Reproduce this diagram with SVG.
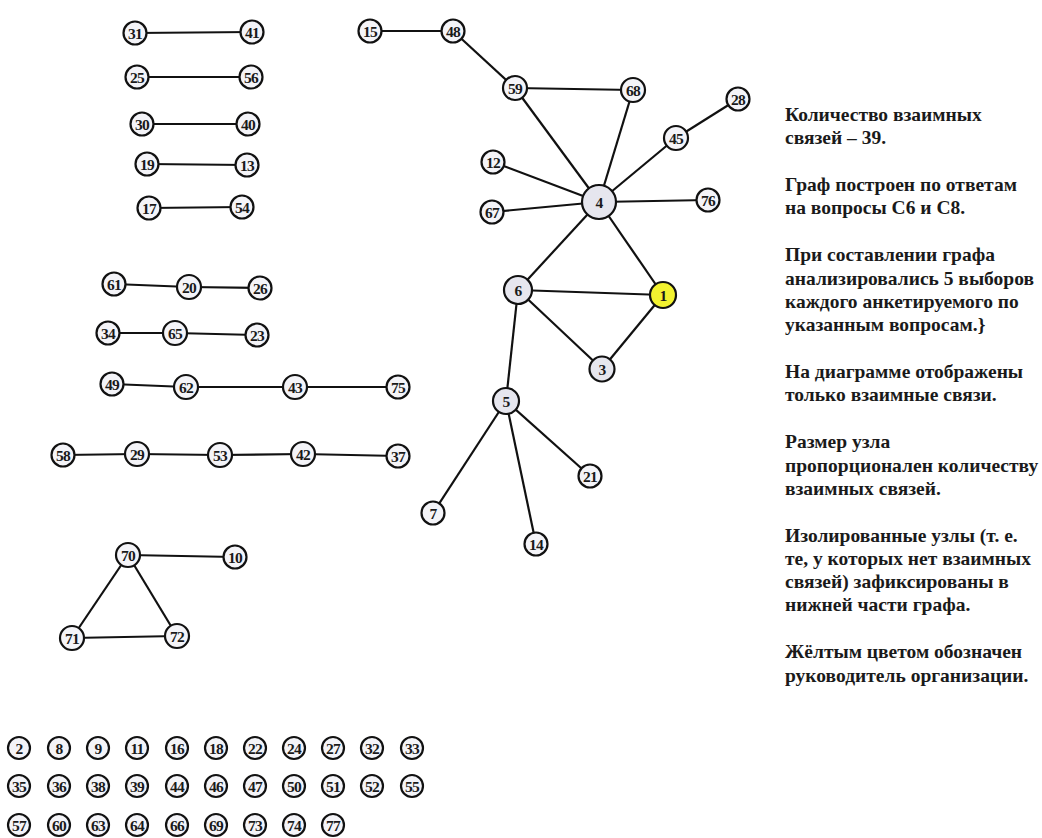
<svg xmlns="http://www.w3.org/2000/svg" width="1042" height="838" viewBox="0 0 1042 838">
<style>
.e line{stroke:#111;stroke-width:2.2}
.n circle{fill:#f4f4f8;stroke:#111;stroke-width:2.2}
.n.b circle{fill:#e6e6ee}
.n.y circle{fill:#f2f230}
.n text{font-family:"Liberation Serif",serif;font-size:15.5px;font-weight:bold;fill:#1a1a1a;text-anchor:middle;letter-spacing:-0.8px}
.t text{font-family:"Liberation Serif",serif;font-size:19.5px;font-weight:bold;fill:#1a1a1a}
</style>
<rect width="1042" height="838" fill="#fff"/>
<g class="e" id="edges">
<line x1="135" y1="33" x2="252" y2="32"/>
<line x1="137" y1="77" x2="251" y2="77"/>
<line x1="142" y1="124" x2="248" y2="124"/>
<line x1="147" y1="164" x2="247" y2="165"/>
<line x1="149" y1="208" x2="242" y2="207"/>
<line x1="370" y1="31" x2="453" y2="31"/>
<line x1="453" y1="31" x2="515" y2="88"/>
<line x1="515" y1="88" x2="633" y2="90"/>
<line x1="515" y1="88" x2="599" y2="202"/>
<line x1="633" y1="90" x2="599" y2="202"/>
<line x1="676" y1="138" x2="738" y2="99"/>
<line x1="599" y1="202" x2="676" y2="138"/>
<line x1="493" y1="162" x2="599" y2="202"/>
<line x1="492" y1="212" x2="599" y2="202"/>
<line x1="599" y1="202" x2="708" y2="200"/>
<line x1="599" y1="202" x2="518" y2="290"/>
<line x1="599" y1="202" x2="663" y2="295"/>
<line x1="518" y1="290" x2="663" y2="295"/>
<line x1="518" y1="290" x2="602" y2="369"/>
<line x1="602" y1="369" x2="663" y2="295"/>
<line x1="518" y1="290" x2="506" y2="401"/>
<line x1="506" y1="401" x2="433" y2="513"/>
<line x1="506" y1="401" x2="536" y2="544"/>
<line x1="506" y1="401" x2="590" y2="476"/>
<line x1="114" y1="284" x2="189" y2="287"/>
<line x1="189" y1="287" x2="260" y2="288"/>
<line x1="108" y1="333" x2="175" y2="333"/>
<line x1="175" y1="333" x2="257" y2="335"/>
<line x1="112" y1="384" x2="186" y2="387"/>
<line x1="186" y1="387" x2="295" y2="387"/>
<line x1="295" y1="387" x2="398" y2="387"/>
<line x1="63" y1="455" x2="137" y2="454"/>
<line x1="137" y1="454" x2="220" y2="455"/>
<line x1="220" y1="455" x2="303" y2="454"/>
<line x1="303" y1="454" x2="398" y2="456"/>
<line x1="128" y1="555" x2="235" y2="557"/>
<line x1="128" y1="555" x2="72" y2="638"/>
<line x1="128" y1="555" x2="177" y2="636"/>
<line x1="72" y1="638" x2="177" y2="636"/>
</g>
<g id="n31" class="n"><circle cx="135" cy="33" r="11.5"/><text x="135" y="38.5">31</text></g>
<g id="n41" class="n"><circle cx="252" cy="32" r="11.5"/><text x="252" y="37.5">41</text></g>
<g id="n25" class="n"><circle cx="137" cy="77" r="11.5"/><text x="137" y="82.5">25</text></g>
<g id="n56" class="n"><circle cx="251" cy="77" r="11.5"/><text x="251" y="82.5">56</text></g>
<g id="n30" class="n"><circle cx="142" cy="124" r="11.5"/><text x="142" y="129.5">30</text></g>
<g id="n40" class="n"><circle cx="248" cy="124" r="11.5"/><text x="248" y="129.5">40</text></g>
<g id="n19" class="n"><circle cx="147" cy="164" r="11.5"/><text x="147" y="169.5">19</text></g>
<g id="n13" class="n"><circle cx="247" cy="165" r="11.5"/><text x="247" y="170.5">13</text></g>
<g id="n17" class="n"><circle cx="149" cy="208" r="11.5"/><text x="149" y="213.5">17</text></g>
<g id="n54" class="n"><circle cx="242" cy="207" r="11.5"/><text x="242" y="212.5">54</text></g>
<g id="n15" class="n"><circle cx="370" cy="31" r="11.5"/><text x="370" y="36.5">15</text></g>
<g id="n48" class="n"><circle cx="453" cy="31" r="11.5"/><text x="453" y="36.5">48</text></g>
<g id="n59" class="n"><circle cx="515" cy="88" r="12"/><text x="515" y="93.5">59</text></g>
<g id="n68" class="n"><circle cx="633" cy="90" r="12"/><text x="633" y="95.5">68</text></g>
<g id="n28" class="n"><circle cx="738" cy="99" r="11.5"/><text x="738" y="104.5">28</text></g>
<g id="n45" class="n"><circle cx="676" cy="138" r="12"/><text x="676" y="143.5">45</text></g>
<g id="n12" class="n"><circle cx="493" cy="162" r="11.5"/><text x="493" y="167.5">12</text></g>
<g id="n67" class="n"><circle cx="492" cy="212" r="11.5"/><text x="492" y="217.5">67</text></g>
<g id="n76" class="n"><circle cx="708" cy="200" r="11.5"/><text x="708" y="205.5">76</text></g>
<g id="n4" class="n b"><circle cx="599" cy="202" r="17"/><text x="599" y="207.5">4</text></g>
<g id="n6" class="n b"><circle cx="518" cy="290" r="14"/><text x="518" y="295.5">6</text></g>
<g id="n1" class="n y"><circle cx="663" cy="295" r="13"/><text x="663" y="300.5">1</text></g>
<g id="n3" class="n b"><circle cx="602" cy="369" r="12.5"/><text x="602" y="374.5">3</text></g>
<g id="n5" class="n b"><circle cx="506" cy="401" r="13"/><text x="506" y="406.5">5</text></g>
<g id="n21" class="n"><circle cx="590" cy="476" r="11.5"/><text x="590" y="481.5">21</text></g>
<g id="n7" class="n"><circle cx="433" cy="513" r="11.5"/><text x="433" y="518.5">7</text></g>
<g id="n14" class="n"><circle cx="536" cy="544" r="11.5"/><text x="536" y="549.5">14</text></g>
<g id="n61" class="n"><circle cx="114" cy="284" r="11.5"/><text x="114" y="289.5">61</text></g>
<g id="n20" class="n"><circle cx="189" cy="287" r="12"/><text x="189" y="292.5">20</text></g>
<g id="n26" class="n"><circle cx="260" cy="288" r="11.5"/><text x="260" y="293.5">26</text></g>
<g id="n34" class="n"><circle cx="108" cy="333" r="11.5"/><text x="108" y="338.5">34</text></g>
<g id="n65" class="n"><circle cx="175" cy="333" r="12"/><text x="175" y="338.5">65</text></g>
<g id="n23" class="n"><circle cx="257" cy="335" r="11.5"/><text x="257" y="340.5">23</text></g>
<g id="n49" class="n"><circle cx="112" cy="384" r="11.5"/><text x="112" y="389.5">49</text></g>
<g id="n62" class="n"><circle cx="186" cy="387" r="12"/><text x="186" y="392.5">62</text></g>
<g id="n43" class="n"><circle cx="295" cy="387" r="12"/><text x="295" y="392.5">43</text></g>
<g id="n75" class="n"><circle cx="398" cy="387" r="11.5"/><text x="398" y="392.5">75</text></g>
<g id="n58" class="n"><circle cx="63" cy="455" r="11.5"/><text x="63" y="460.5">58</text></g>
<g id="n29" class="n"><circle cx="137" cy="454" r="12"/><text x="137" y="459.5">29</text></g>
<g id="n53" class="n"><circle cx="220" cy="455" r="12"/><text x="220" y="460.5">53</text></g>
<g id="n42" class="n"><circle cx="303" cy="454" r="12"/><text x="303" y="459.5">42</text></g>
<g id="n37" class="n"><circle cx="398" cy="456" r="11.5"/><text x="398" y="461.5">37</text></g>
<g id="n70" class="n"><circle cx="128" cy="555" r="12"/><text x="128" y="560.5">70</text></g>
<g id="n10" class="n"><circle cx="235" cy="557" r="11.5"/><text x="235" y="562.5">10</text></g>
<g id="n71" class="n"><circle cx="72" cy="638" r="12"/><text x="72" y="643.5">71</text></g>
<g id="n72" class="n"><circle cx="177" cy="636" r="12"/><text x="177" y="641.5">72</text></g>
<g id="n2" class="n"><circle cx="19" cy="748" r="11"/><text x="19" y="753.5">2</text></g>
<g id="n8" class="n"><circle cx="59" cy="748" r="11"/><text x="59" y="753.5">8</text></g>
<g id="n9" class="n"><circle cx="98" cy="748" r="11"/><text x="98" y="753.5">9</text></g>
<g id="n11" class="n"><circle cx="137" cy="748" r="11"/><text x="137" y="753.5">11</text></g>
<g id="n16" class="n"><circle cx="177" cy="748" r="11"/><text x="177" y="753.5">16</text></g>
<g id="n18" class="n"><circle cx="216" cy="748" r="11"/><text x="216" y="753.5">18</text></g>
<g id="n22" class="n"><circle cx="255" cy="748" r="11"/><text x="255" y="753.5">22</text></g>
<g id="n24" class="n"><circle cx="294" cy="748" r="11"/><text x="294" y="753.5">24</text></g>
<g id="n27" class="n"><circle cx="333" cy="748" r="11"/><text x="333" y="753.5">27</text></g>
<g id="n32" class="n"><circle cx="372" cy="748" r="11"/><text x="372" y="753.5">32</text></g>
<g id="n33" class="n"><circle cx="412" cy="748" r="11"/><text x="412" y="753.5">33</text></g>
<g id="n35" class="n"><circle cx="19" cy="786" r="11"/><text x="19" y="791.5">35</text></g>
<g id="n36" class="n"><circle cx="59" cy="786" r="11"/><text x="59" y="791.5">36</text></g>
<g id="n38" class="n"><circle cx="98" cy="786" r="11"/><text x="98" y="791.5">38</text></g>
<g id="n39" class="n"><circle cx="137" cy="786" r="11"/><text x="137" y="791.5">39</text></g>
<g id="n44" class="n"><circle cx="177" cy="786" r="11"/><text x="177" y="791.5">44</text></g>
<g id="n46" class="n"><circle cx="216" cy="786" r="11"/><text x="216" y="791.5">46</text></g>
<g id="n47" class="n"><circle cx="255" cy="786" r="11"/><text x="255" y="791.5">47</text></g>
<g id="n50" class="n"><circle cx="294" cy="786" r="11"/><text x="294" y="791.5">50</text></g>
<g id="n51" class="n"><circle cx="333" cy="786" r="11"/><text x="333" y="791.5">51</text></g>
<g id="n52" class="n"><circle cx="372" cy="786" r="11"/><text x="372" y="791.5">52</text></g>
<g id="n55" class="n"><circle cx="412" cy="786" r="11"/><text x="412" y="791.5">55</text></g>
<g id="n57" class="n"><circle cx="19" cy="825" r="11"/><text x="19" y="830.5">57</text></g>
<g id="n60" class="n"><circle cx="59" cy="825" r="11"/><text x="59" y="830.5">60</text></g>
<g id="n63" class="n"><circle cx="98" cy="825" r="11"/><text x="98" y="830.5">63</text></g>
<g id="n64" class="n"><circle cx="137" cy="825" r="11"/><text x="137" y="830.5">64</text></g>
<g id="n66" class="n"><circle cx="177" cy="825" r="11"/><text x="177" y="830.5">66</text></g>
<g id="n69" class="n"><circle cx="216" cy="825" r="11"/><text x="216" y="830.5">69</text></g>
<g id="n73" class="n"><circle cx="255" cy="825" r="11"/><text x="255" y="830.5">73</text></g>
<g id="n74" class="n"><circle cx="294" cy="825" r="11"/><text x="294" y="830.5">74</text></g>
<g id="n77" class="n"><circle cx="333" cy="825" r="11"/><text x="333" y="830.5">77</text></g>
<g id="legend" class="t">
<text x="785" y="121">Количество взаимных</text>
<text x="785" y="144">связей – 39.</text>
<text x="785" y="191">Граф построен по ответам</text>
<text x="785" y="214">на вопросы С6 и С8.</text>
<text x="785" y="261">При составлении графа</text>
<text x="785" y="284.5">анализировались 5 выборов</text>
<text x="785" y="308">каждого анкетируемого по</text>
<text x="785" y="331">указанным вопросам.}</text>
<text x="785" y="378">На диаграмме отображены</text>
<text x="785" y="401">только взаимные связи.</text>
<text x="785" y="448">Размер узла</text>
<text x="785" y="471.5">пропорционален количеству</text>
<text x="785" y="494.5">взаимных связей.</text>
<text x="785" y="541.5">Изолированные узлы (т. е.</text>
<text x="785" y="565">те, у которых нет взаимных</text>
<text x="785" y="588">связей) зафиксированы в</text>
<text x="785" y="611">нижней части графа.</text>
<text x="785" y="658">Жёлтым цветом обозначен</text>
<text x="785" y="681.5">руководитель организации.</text>
</g>
</svg>
